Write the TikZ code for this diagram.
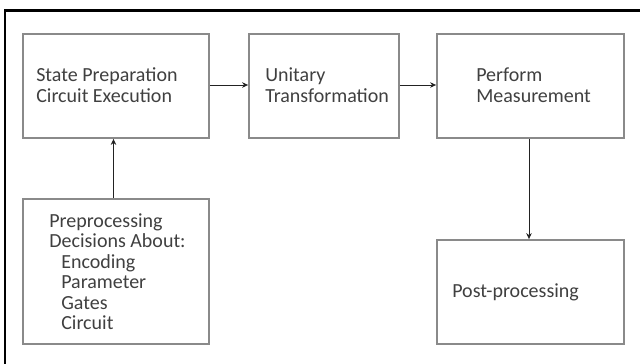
\documentclass[tikz,border=0pt]{standalone}
\usepackage{fontspec}
\setmainfont{Carlito}
\usetikzlibrary{arrows.meta}
\definecolor{boxgray}{HTML}{8A8A8A}
\definecolor{inkdark}{HTML}{404040}
\definecolor{arrowdark}{HTML}{222222}
\tikzset{
  stagebox/.style={draw=boxgray, line width=1.8pt, fill=white, rectangle,
    inner sep=0pt},
  boxtext/.style={anchor=west, align=left, inner sep=0pt, text=inkdark,
    font=\fontsize{20pt}{20.5pt}\selectfont},
  flow/.style={draw=arrowdark, line width=0.9pt,
    -{Stealth[length=6pt,width=5.5pt]}},
  frameline/.style={draw=black, line width=2.8pt}
}
\begin{document}
\begin{tikzpicture}[x=1pt,y=-1pt]
\useasboundingbox (0,0) rectangle (640,364);
\fill[white] (0,0) rectangle (640,364);

% outer frame: heavy top and left rules
\draw[frameline] (5,364) -- (5,10.7) -- (640,10.7);

% stage boxes
\node[stagebox, minimum width=186pt, minimum height=104pt] (prep) at (116,86) {};
\node[stagebox, minimum width=150pt, minimum height=104pt] (unit) at (324,86) {};
\node[stagebox, minimum width=187pt, minimum height=104pt] (meas) at (530.5,86) {};
\node[stagebox, minimum width=186pt, minimum height=145pt] (pre) at (116,271.5) {};
\node[stagebox, minimum width=187pt, minimum height=104pt] (post) at (530.5,292) {};

% box labels
\node[boxtext] (prepT) at ([xshift=14pt,yshift=1pt]prep.west)
  {State Preparation\\Circuit Execution};
\node[boxtext] (unitT) at ([xshift=17pt,yshift=1pt]unit.west)
  {Unitary\\Transformation};
\node[boxtext] (measT) at ([xshift=40pt,yshift=1pt]meas.west)
  {Perform\\Measurement};
\node[boxtext] (preT) at ([xshift=27pt,yshift=0pt]pre.west)
  {Preprocessing\\Decisions About:\\\hspace*{12pt}Encoding\\\hspace*{12pt}Parameter\\\hspace*{12pt}Gates\\\hspace*{12pt}Circuit};
\node[boxtext] (postT) at ([xshift=16pt]post.west) {Post-processing};

% connectors
\draw[flow] ([yshift=1pt]prep.east) -- ([yshift=1pt]unit.west);
\draw[flow] ([yshift=1pt]unit.east) -- ([yshift=1pt]meas.west);
\draw[flow] ([xshift=-2.5pt]pre.north) -- ([xshift=-2.5pt]prep.south);
\draw[flow] ([xshift=-1.5pt]meas.south) -- ([xshift=-1.5pt]post.north);
\end{tikzpicture}
\end{document}
